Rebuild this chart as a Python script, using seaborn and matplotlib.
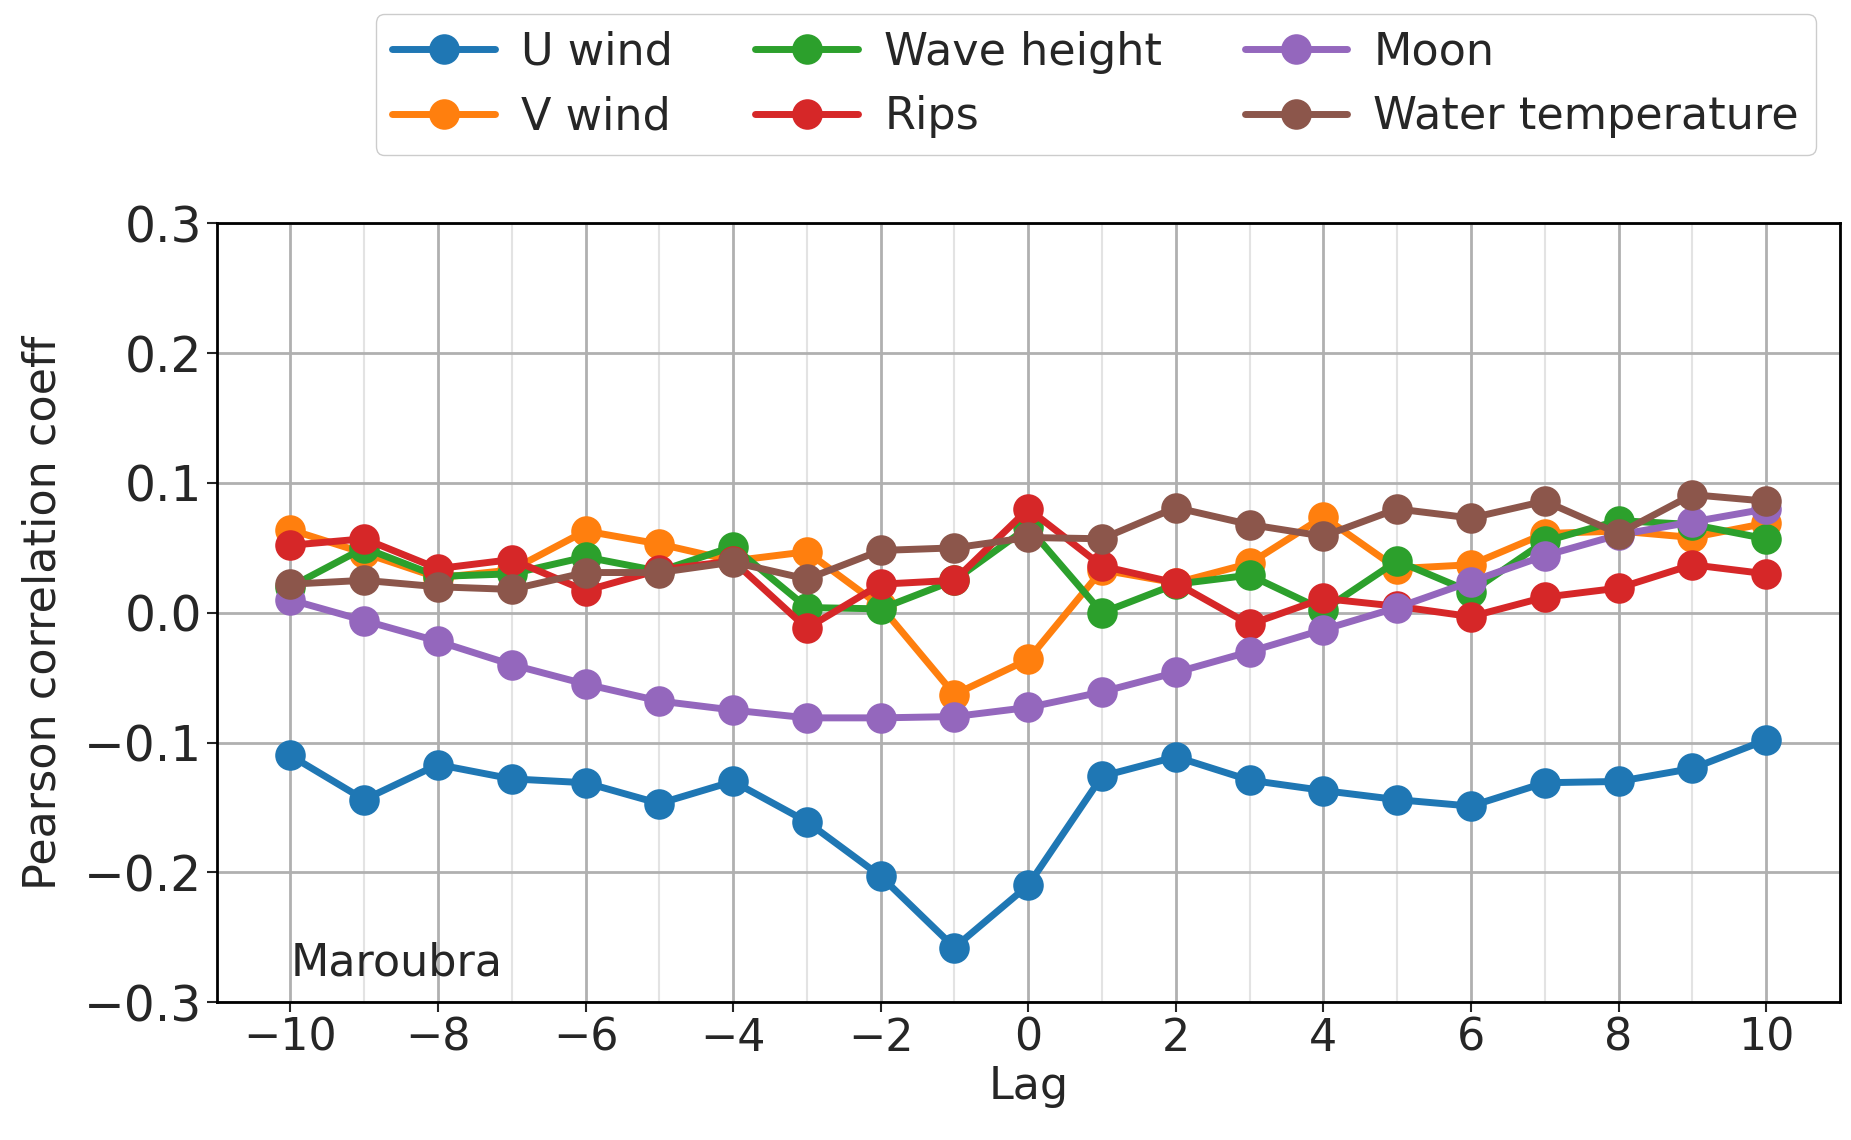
import numpy as np
import pandas as pd
import matplotlib
matplotlib.use("Agg")
from matplotlib import pyplot as plt
from matplotlib.ticker import MultipleLocator
import seaborn as sns

lags = list(range(-10, 11))

u_wind = [-0.110, -0.144, -0.117, -0.128, -0.131, -0.147, -0.130, -0.161, -0.203, -0.258, -0.210,
          -0.126, -0.111, -0.129, -0.137, -0.144, -0.149, -0.131, -0.130, -0.120, -0.098]
v_wind = [0.064, 0.046, 0.027, 0.033, 0.063, 0.053, 0.040, 0.047, 0.005, -0.063, -0.036,
          0.033, 0.023, 0.038, 0.074, 0.034, 0.037, 0.061, 0.063, 0.058, 0.069]
wave_height = [0.020, 0.050, 0.028, 0.030, 0.043, 0.032, 0.051, 0.004, 0.003, 0.025, 0.066,
               0.000, 0.022, 0.029, 0.002, 0.040, 0.016, 0.055, 0.071, 0.068, 0.057]
rips = [0.052, 0.057, 0.034, 0.041, 0.017, 0.033, 0.040, -0.012, 0.022, 0.025, 0.080,
        0.036, 0.023, -0.009, 0.011, 0.005, -0.003, 0.012, 0.019, 0.037, 0.030]
moon = [0.010, -0.006, -0.022, -0.040, -0.055, -0.068, -0.075, -0.081, -0.081, -0.080, -0.073,
        -0.061, -0.046, -0.030, -0.013, 0.004, 0.024, 0.044, 0.060, 0.070, 0.080]
water_temp = [0.022, 0.025, 0.020, 0.018, 0.031, 0.031, 0.039, 0.026, 0.048, 0.050, 0.058,
              0.057, 0.081, 0.068, 0.059, 0.080, 0.073, 0.086, 0.061, 0.091, 0.086]

names = ["U wind", "V wind", "Wave height", "Rips", "Moon", "Water temperature"]
series = [u_wind, v_wind, wave_height, rips, moon, water_temp]

df = pd.concat([pd.DataFrame({"Lag": lags, "r": vals, "var": name})
                for name, vals in zip(names, series)], ignore_index=True)

sns.set_style("ticks")
plt.rcParams["font.family"] = ["DejaVu Sans"]
fs = 32

fig = plt.figure(figsize=(18.51, 11.40), dpi=100)
ax = fig.add_axes([0.117, 0.121, 0.877, 0.683])

ax.xaxis.set_major_locator(MultipleLocator(2))
ax.xaxis.set_minor_locator(MultipleLocator(1))
ax.grid(True, which="major", color="#b0b0b0", linewidth=2)
ax.grid(True, which="minor", axis="x", color="#e3e3e3", linewidth=1.5)
ax.set_axisbelow(True)

sns.lineplot(data=df, x="Lag", y="r", hue="var", palette="tab10",
             marker="o", markersize=22, markeredgewidth=0, linewidth=5, ax=ax)

ax.set_xlim(-11, 11)
ax.set_ylim(-0.3, 0.3)
ax.set_xlabel("Lag", fontsize=fs, labelpad=4)
ax.set_ylabel("Pearson correlation coeff", fontsize=fs, labelpad=14)
ax.tick_params(axis="both", which="major", labelsize=fs, length=7, width=1.5, direction="out")
ax.tick_params(axis="y", which="major", labelsize=35)
ax.tick_params(axis="x", which="minor", length=0)
for s in ax.spines.values():
    s.set_linewidth(2)
    s.set_color("black")
ax.set_yticks(np.arange(-0.3, 0.31, 0.1))
ax.set_yticklabels(["\u22120.3", "\u22120.2", "\u22120.1", "0.0", "0.1", "0.2", "0.3"])

ax.text(-10, -0.27, "Maroubra", fontsize=fs, va="center", ha="left")

handles, labels = ax.get_legend_handles_labels()
ax.legend(handles, labels, ncol=3, fontsize=fs, loc="upper center",
          bbox_to_anchor=(0.592, 0.988), bbox_transform=fig.transFigure,
          borderaxespad=0, handlelength=2.3, handletextpad=0.6, columnspacing=1.85,
          framealpha=1, edgecolor="#cccccc", borderpad=0.38, labelspacing=0.49)

fig.savefig("out.png", dpi=100)
